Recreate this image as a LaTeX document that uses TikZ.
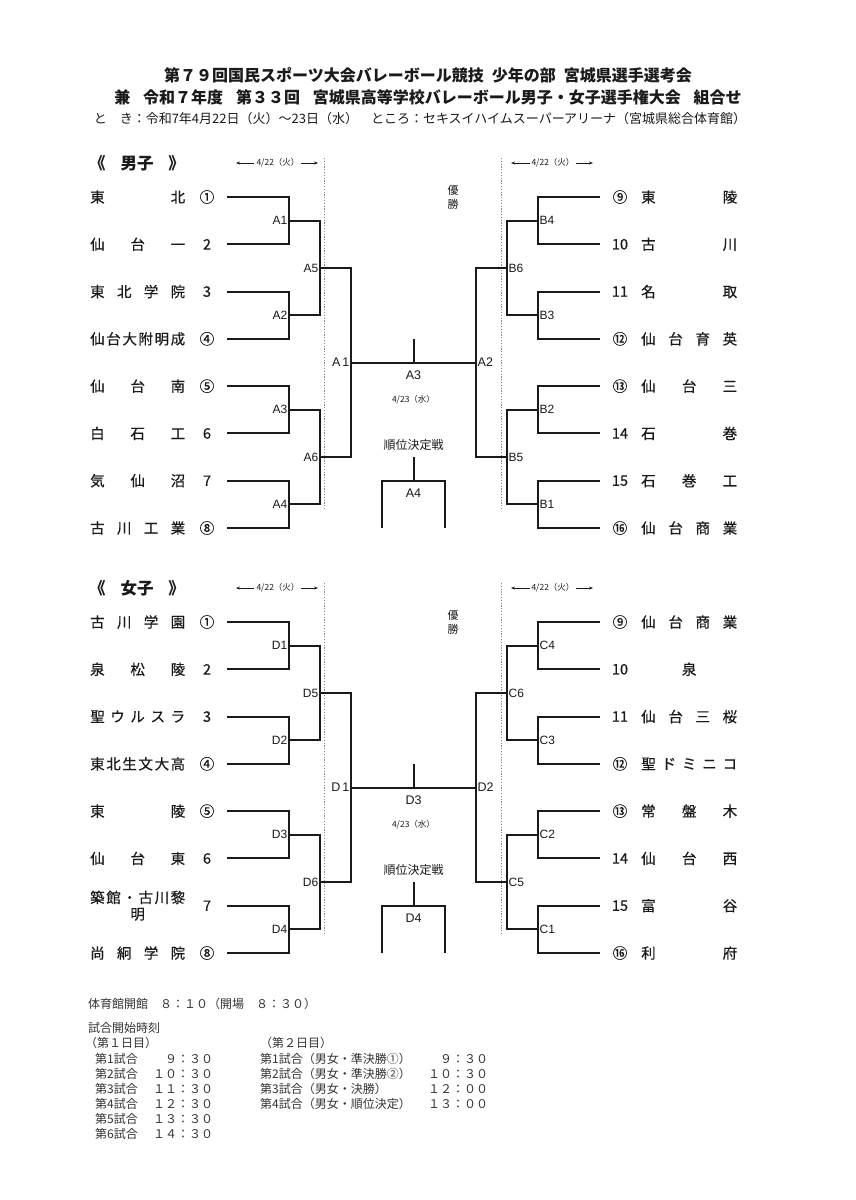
\documentclass[tikz,border=0pt]{standalone}
\usepackage{fontspec}
\setmainfont{Noto Sans CJK JP}
\newfontfamily\medjp[FakeBold=0.5]{Noto Sans CJK JP}
\newfontfamily\lat{Liberation Sans}
\usetikzlibrary{arrows.meta}
\definecolor{ink}{HTML}{1A1A1A}
\definecolor{dotgray}{HTML}{8C8C8C}
\definecolor{softink}{HTML}{333333}
\newcommand\fs[1]{\fontsize{#1}{#1}\selectfont}
\tikzset{
  br/.style={ink, line width=2pt},
  dotline/.style={dotgray, line width=1pt, dash pattern=on 1.2pt off 1.6pt},
  rlbl/.style={font=\lat\fs{12}, inner sep=1.5pt, text=ink},
  clbl/.style={font=\lat\fs{12.5}, inner sep=1.5pt, text=ink},
  tname/.style={font=\medjp\fs{14.5}, inner sep=0pt, text=ink},
  tnum/.style={font=\medjp\fs{14.5}, inner sep=0pt, text=ink},
  smalltxt/.style={font=\fs{8.5}, inner sep=0pt, text=ink},
  midtxt/.style={font=\fs{12}, inner sep=0pt, text=ink},
  titletxt/.style={font=\bfseries\fs{16}, inner sep=0pt, text=ink},
  infotxt/.style={font=\fs{13}, inner sep=0pt, text=ink},
  sched/.style={font=\fs{12}, inner sep=0pt, text=softink, anchor=west},
  sect/.style={font=\bfseries\fs{16.5}, inner sep=0pt, text=ink, anchor=west},
  arr/.style={ink, line width=0.6pt, -{Stealth[length=4pt,width=3pt]}},
}
% left team: name, y, text, number
\newcommand\LTeam[4]{%
  \node[tname,anchor=west] (#1) at (90,#2) {\makebox[95pt]{#3}};
  \node[tnum] (#1n) at (207,#2) {#4};}
\newcommand\RTeam[4]{%
  \node[tnum] (#1n) at (620,#2) {#3};
  \node[tname,anchor=west] (#1) at (641,#2) {\makebox[96pt]{#4}};}
% bracket: prefix, left letter, right letter, y offset, section title
\newcommand\Bracket[5]{%
\begin{scope}[shift={(0,#4)}]
  \node[sect] (#1title) at (89,163) {《\hspace{0.9em}#5\hspace{0.9em}》};
  % date arrows
  \coordinate (#1la1) at (254,163); \coordinate (#1la0) at (236,163);
  \coordinate (#1lb1) at (301,163); \coordinate (#1lb0) at (318,163);
  \node[smalltxt] (#1ldate) at (278,163) {4/22（火）};
  \draw[arr] (#1la1) -- (#1la0);
  \draw[arr] (#1lb1) -- (#1lb0);
  \coordinate (#1ra1) at (530,163); \coordinate (#1ra0) at (511,163);
  \coordinate (#1rb1) at (576,163); \coordinate (#1rb0) at (593,163);
  \node[smalltxt] (#1rdate) at (553,163) {4/22（火）};
  \draw[arr] (#1ra1) -- (#1ra0);
  \draw[arr] (#1rb1) -- (#1rb0);
  % dotted separators
  \coordinate (#1d1) at (324,158); \coordinate (#1d2) at (324,509);
  \coordinate (#1D1) at (501,158); \coordinate (#1D2) at (501,509);
  \draw[dotline] (#1d1) -- (#1d2);
  \draw[dotline] (#1D1) -- (#1D2);
  % rows
  \foreach \i/\y in {1/197,2/244.29,3/291.57,4/338.86,5/386.14,6/433.43,7/480.71,8/528}{
    \coordinate (#1a\i) at (227,\y);
    \coordinate (#1b\i) at (600,\y);
  }
  \foreach \i/\y in {1/220.64,2/315.21,3/409.79,4/504.36}{
    \coordinate (#1j\i) at (289,\y);
    \coordinate (#1J\i) at (538,\y);
  }
  \coordinate (#1k1) at (320,267.93); \coordinate (#1k2) at (320,457.07);
  \coordinate (#1K1) at (507,267.93); \coordinate (#1K2) at (507,457.07);
  \coordinate (#1s) at (351,362.5);   \coordinate (#1S) at (476,362.5);
  % left side
  \draw[br] (#1a1) -| (#1j1) |- (#1a2);
  \draw[br] (#1a3) -| (#1j2) |- (#1a4);
  \draw[br] (#1a5) -| (#1j3) |- (#1a6);
  \draw[br] (#1a7) -| (#1j4) |- (#1a8);
  \draw[br] (#1j1) -| (#1k1) |- (#1j2);
  \draw[br] (#1j3) -| (#1k2) |- (#1j4);
  \draw[br] (#1k1) -| (#1s) |- (#1k2);
  % right side
  \draw[br] (#1b1) -| (#1J1) |- (#1b2);
  \draw[br] (#1b3) -| (#1J2) |- (#1b4);
  \draw[br] (#1b5) -| (#1J3) |- (#1b6);
  \draw[br] (#1b7) -| (#1J4) |- (#1b8);
  \draw[br] (#1J1) -| (#1K1) |- (#1J2);
  \draw[br] (#1J3) -| (#1K2) |- (#1J4);
  \draw[br] (#1K1) -| (#1S) |- (#1K2);
  % final
  \draw[br] (#1s) -- (#1S);
  \coordinate (#1ct) at (413.5,339); \coordinate (#1cm) at (413.5,362.5);
  \draw[br] (#1ct) -- (#1cm);
  % third place
  \coordinate (#1pt) at (413.5,457); \coordinate (#1pm) at (413.5,481);
  \coordinate (#1pl) at (382,481); \coordinate (#1pr) at (445,481);
  \coordinate (#1pL) at (382,528); \coordinate (#1pR) at (445,528);
  \draw[br] (#1pt) -- (#1pm);
  \draw[br] (#1pL) -- (#1pl) -- (#1pr) -- (#1pR);
  % round labels
  \node[rlbl,anchor=east] (#1l1) at (#1j1) {#21};
  \node[rlbl,anchor=east] (#1l2) at (#1j2) {#22};
  \node[rlbl,anchor=east] (#1l3) at (#1j3) {#23};
  \node[rlbl,anchor=east] (#1l4) at (#1j4) {#24};
  \node[rlbl,anchor=east] (#1l5) at (#1k1) {#25};
  \node[rlbl,anchor=east] (#1l6) at (#1k2) {#26};
  \node[rlbl,anchor=west] (#1r4) at (#1J1) {#34};
  \node[rlbl,anchor=west] (#1r3) at (#1J2) {#33};
  \node[rlbl,anchor=west] (#1r2) at (#1J3) {#32};
  \node[rlbl,anchor=west] (#1r1) at (#1J4) {#31};
  \node[rlbl,anchor=west] (#1r6) at (#1K1) {#36};
  \node[rlbl,anchor=west] (#1r5) at (#1K2) {#35};
  \node[clbl,anchor=east] (#1c1) at (#1s) {#2\hspace{2pt}1};
  \node[clbl,anchor=west] (#1c2) at (#1S) {#22};
  \node[clbl] (#1c3) at (413.5,375) {#23};
  \node[clbl] (#1c4) at (413.5,493) {#24};
  \node[smalltxt] (#1cdate) at (413.5,400) {4/23（水）};
  \node[midtxt] (#1third) at (413.5,445) {順位決定戦};
  \node[font=\fs{11},inner sep=0pt,text=ink,align=center] (#1win) at (453,197) {優\\[3pt]勝};
\end{scope}}

\begin{document}
\begin{tikzpicture}[x=1pt,y=-1pt]
\useasboundingbox (0,0) rectangle (856,1200);
\fill[white] (0,0) rectangle (856,1200);
% header
\node[titletxt] (h1) at (428,75) {第７９回国民スポーツ大会バレーボール競技\hspace{0.5em}少年の部\hspace{0.5em}宮城県選手選考会};
\node[titletxt] (h2) at (428,97) {兼\hspace{0.8em}令和７年度\hspace{0.8em}第３３回\hspace{0.8em}宮城県高等学校バレーボール男子・女子選手権大会\hspace{0.8em}組合せ};
\node[infotxt] (h3) at (420,119) {と　き：令和7年4月22日（火）～23日（水）　ところ：セキスイハイムスーパーアリーナ（宮城県総合体育館）};

\Bracket{m}{A}{B}{0}{男子}
\Bracket{w}{D}{C}{425}{女子}

% boys teams
\LTeam{m1}{197}{東\hfill 北}{①}
\LTeam{m2}{244.29}{仙\hfill 台\hfill 一}{2}
\LTeam{m3}{291.57}{東\hfill 北\hfill 学\hfill 院}{3}
\LTeam{m4}{338.86}{仙\hfill 台\hfill 大\hfill 附\hfill 明\hfill 成}{④}
\LTeam{m5}{386.14}{仙\hfill 台\hfill 南}{⑤}
\LTeam{m6}{433.43}{白\hfill 石\hfill 工}{6}
\LTeam{m7}{480.71}{気\hfill 仙\hfill 沼}{7}
\LTeam{m8}{528}{古\hfill 川\hfill 工\hfill 業}{⑧}
\RTeam{m9}{197}{⑨}{東\hfill 陵}
\RTeam{m10}{244.29}{10}{古\hfill 川}
\RTeam{m11}{291.57}{11}{名\hfill 取}
\RTeam{m12}{338.86}{⑫}{仙\hfill 台\hfill 育\hfill 英}
\RTeam{m13}{386.14}{⑬}{仙\hfill 台\hfill 三}
\RTeam{m14}{433.43}{14}{石\hfill 巻}
\RTeam{m15}{480.71}{15}{石\hfill 巻\hfill 工}
\RTeam{m16}{528}{⑯}{仙\hfill 台\hfill 商\hfill 業}
% girls teams
\LTeam{w1}{622}{古\hfill 川\hfill 学\hfill 園}{①}
\LTeam{w2}{669.29}{泉\hfill 松\hfill 陵}{2}
\LTeam{w3}{716.57}{聖\hfill ウ\hfill ル\hfill ス\hfill ラ}{3}
\LTeam{w4}{763.86}{東\hfill 北\hfill 生\hfill 文\hfill 大\hfill 高}{④}
\LTeam{w5}{811.14}{東\hfill 陵}{⑤}
\LTeam{w6}{858.43}{仙\hfill 台\hfill 東}{6}
\node[tname,anchor=west,align=center] (w7) at (90,905.71) {\makebox[95pt]{築\hfill 館\hfill ・\hfill 古\hfill 川\hfill 黎}\\[2pt]明};
\node[tnum] (w7n) at (207,905.71) {7};
\LTeam{w8}{953}{尚\hfill 絅\hfill 学\hfill 院}{⑧}
\RTeam{w9}{622}{⑨}{仙\hfill 台\hfill 商\hfill 業}
\RTeam{w10}{669.29}{10}{\hfill 泉\hfill}
\RTeam{w11}{716.57}{11}{仙\hfill 台\hfill 三\hfill 桜}
\RTeam{w12}{763.86}{⑫}{聖\hfill ド\hfill ミ\hfill ニ\hfill コ}
\RTeam{w13}{811.14}{⑬}{常\hfill 盤\hfill 木}
\RTeam{w14}{858.43}{14}{仙\hfill 台\hfill 西}
\RTeam{w15}{905.71}{15}{富\hfill 谷}
\RTeam{w16}{953}{⑯}{利\hfill 府}

% schedule
\node[sched] (s0) at (88,1004) {体育館開館　８：１０（開場　８：３０）};
\node[sched] (s1) at (88,1028) {試合開始時刻};
\node[sched] (s2) at (85,1043) {（第１日目）};
\node[sched] (s3) at (260,1043) {（第２日目）};
\foreach \n/\y/\t in {1/1059/９：３０,2/1074/１０：３０,3/1089/１１：３０,4/1104/１２：３０,5/1119/１３：３０,6/1134/１４：３０}{
  \node[sched] (sl\n) at (95,\y) {\makebox[118pt]{第\n 試合\hfill \t}};
}
\node[sched] (sr1) at (260,1059) {\makebox[228pt]{第1試合（男女・準決勝①）\hfill ９：３０}};
\node[sched] (sr2) at (260,1074) {\makebox[228pt]{第2試合（男女・準決勝②）\hfill １０：３０}};
\node[sched] (sr3) at (260,1089) {\makebox[228pt]{第3試合（男女・決勝）\hfill １２：００}};
\node[sched] (sr4) at (260,1104) {\makebox[228pt]{第4試合（男女・順位決定）\hfill １３：００}};
\end{tikzpicture}
\end{document}
